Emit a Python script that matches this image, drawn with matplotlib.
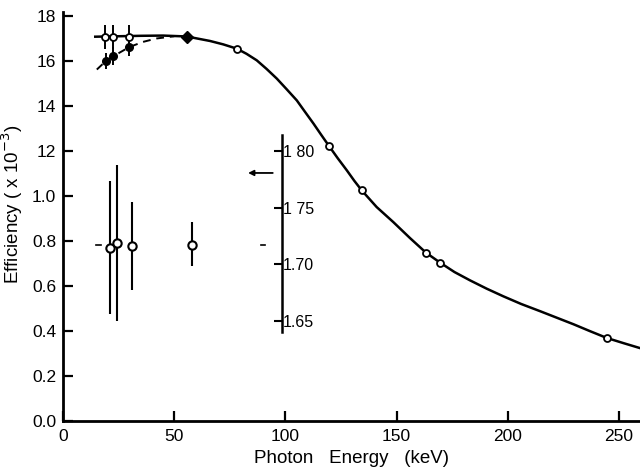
import matplotlib
matplotlib.use("Agg")
import matplotlib.pyplot as plt

# ---------------- data ----------------
# smooth efficiency curve (x 10^-3)
curve_energy = [14.5, 25, 35, 45, 55.6, 66.1, 72.0, 78.1, 82.5, 87.1, 91.5, 96.1, 100.5,
                105.1, 108.8, 112.6, 116.0, 119.6, 123.5, 127.6, 131.0, 134.3, 141.0,
                148.5, 156.0, 163.2, 169.5, 176.0, 183.0, 190.5, 198.0, 206.0, 214.5,
                222.0, 229.5, 237.0, 244.5, 252.0, 259.4]
curve_eff = [1.708, 1.710, 1.712, 1.713, 1.709, 1.689, 1.674, 1.655, 1.632, 1.603, 1.565,
             1.522, 1.475, 1.425, 1.374, 1.322, 1.273, 1.222, 1.168, 1.114, 1.067, 1.025,
             0.951, 0.884, 0.813, 0.748, 0.704, 0.662, 0.625, 0.588, 0.554, 0.520, 0.488,
             0.459, 0.430, 0.399, 0.369, 0.346, 0.324]

# measured points lying on the curve (open circles)
meas_energy = [78.1, 119.6, 134.3, 163.2, 169.5, 244.5]
meas_eff = [1.655, 1.222, 1.025, 0.748, 0.704, 0.369]

# corrected low-energy points (open circles with error bars)
corr_energy = [19.0, 22.6, 29.8]
corr_eff = [1.707, 1.707, 1.707]
corr_err = [0.054, 0.054, 0.054]

# uncorrected low-energy points (filled) and dashed curve
unc_energy = [19.3, 22.6, 29.8]
unc_eff = [1.600, 1.621, 1.662]
unc_err = [0.037, 0.040, 0.040]
dash_energy = [15.2, 19.3, 22.6, 29.8, 36.0, 42.0, 50.0]
dash_eff = [1.562, 1.600, 1.621, 1.662, 1.685, 1.700, 1.710]

# reference point (filled diamond)
ref_energy = [55.6]
ref_eff = [1.708]

# ratio points plotted against the inner scale
ratio_energy = [21.1, 24.1, 31.2, 58.1]
ratio_val = [1.7144, 1.7188, 1.7159, 1.7174]
ratio_err_lo = [0.0585, 0.0688, 0.0382, 0.0192]
ratio_err_hi = [0.0591, 0.0686, 0.0391, 0.0199]
ratio_mean = 1.7166
mean_dash_energy = [16.0, 90.0]
arrow_ratio = 1.7806
arrow_energy = [94.3, 83.2]

# axes / ticks
x_ticks = [0, 50, 100, 150, 200, 250]
y_ticks = [0.0, 0.2, 0.4, 0.6, 0.8, 1.0, 1.2, 1.4, 1.6, 1.8]
y_ticklabels = ["0.0", "0.2", "0.4", "0.6", "0.8", "1.0", "12", "14", "16", "18"]
inner_ticks = [1.65, 1.70, 1.75, 1.80]
inner_ticklabels = ["1.65", "1.70", "1 75", "1 80"]
inner_axis_energy = 98.3
inner_bounds = (1.640, 1.814)

# linear relation between the inner (ratio) scale and the main scale
def ratio_to_main(v):
    return 0.6964 + (v - 1.70) * 5.037

def main_to_ratio(m):
    return 1.70 + (m - 0.6964) / 5.037

# ---------------- figure ----------------
plt.rcParams['font.family'] = ['Liberation Sans', 'DejaVu Sans']
fig = plt.figure(figsize=(6.4, 4.73), dpi=100)
ax = fig.add_axes([63 / 640, 1 - 421 / 473, (640 - 63) / 640, (421 - 12) / 473])
XMAX = 259.4
ax.set_xlim(0, XMAX)
ax.set_ylim(0, 409 / 225)

for s in ("top", "right"):
    ax.spines[s].set_visible(False)
for s in ("left", "bottom"):
    ax.spines[s].set_linewidth(2.0)

ax.set_xticks(x_ticks)
ax.set_yticks(y_ticks)
ax.set_yticklabels(y_ticklabels)
ax.tick_params(axis='both', direction='in', length=7, width=1.6, labelsize=12.5)
ax.tick_params(axis='y', pad=5)
ax.tick_params(axis='x', pad=6)

ax.set_xlabel("Photon   Energy   (keV)", fontsize=13.5)
ax.set_ylabel(r"Efficiency ( x 10$^{-3}$)", fontsize=13.5)
ax.yaxis.set_label_coords(-0.066, 0.53)

# curves
ax.plot(curve_energy, curve_eff, color='black', lw=1.8, zorder=2)
ax.plot(dash_energy, dash_eff, color='black', lw=1.4, ls=(0, (4, 3)), zorder=2)

# measured open points on the curve
ax.plot(meas_energy, meas_eff, ls='none', marker='o', ms=5, mfc='white',
        mec='black', mew=1.3, zorder=4)

# corrected points with error bars
ax.errorbar(corr_energy, corr_eff, yerr=corr_err, fmt='o', ms=5, mfc='white',
            mec='black', mew=1.3, ecolor='black', elinewidth=1.4, capsize=0, zorder=4)
# uncorrected filled points
ax.errorbar(unc_energy, unc_eff, yerr=unc_err, fmt='o', ms=5.5, mfc='black',
            mec='black', ecolor='black', elinewidth=1.4, capsize=0, zorder=4)
# reference diamond
ax.plot(ref_energy, ref_eff, ls='none', marker='D', ms=6.5, color='black', zorder=5)

# ratio points on the inner scale
ratio_main = [ratio_to_main(v) for v in ratio_val]
err_lo_main = [ratio_to_main(v) - ratio_to_main(v - e) for v, e in zip(ratio_val, ratio_err_lo)]
err_hi_main = [ratio_to_main(v + e) - ratio_to_main(v) for v, e in zip(ratio_val, ratio_err_hi)]
ax.errorbar(ratio_energy, ratio_main, yerr=[err_lo_main, err_hi_main], fmt='o', ms=6,
            mfc='white', mec='black', mew=1.5, ecolor='black', elinewidth=1.5,
            capsize=0, zorder=4)
for e in mean_dash_energy:
    ax.plot([e - 1.0, e + 1.0], [ratio_to_main(ratio_mean)] * 2, color='black', lw=1.2)

# arrow
ax.annotate("", xy=(arrow_energy[1], ratio_to_main(arrow_ratio)),
            xytext=(arrow_energy[0], ratio_to_main(arrow_ratio)),
            arrowprops=dict(arrowstyle='-|>', color='black', lw=1.3,
                            mutation_scale=8, shrinkA=0, shrinkB=0))

# inner scale axis
sec = ax.secondary_yaxis(inner_axis_energy / XMAX, functions=(main_to_ratio, ratio_to_main))
sec.set_alignment('right')
sec.spines['right'].set_linewidth(1.8)
sec.spines['right'].set_bounds(*inner_bounds)
sec.set_yticks(inner_ticks)
sec.set_yticklabels(inner_ticklabels)
sec.tick_params(axis='y', direction='in', length=6, width=1.5, pad=1, labelsize=11.5)

fig.savefig("out.png", dpi=100)
